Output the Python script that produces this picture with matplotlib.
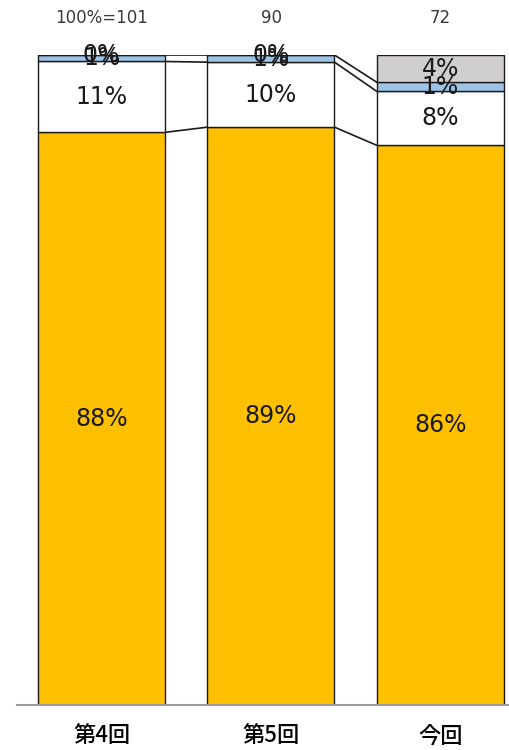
import matplotlib
matplotlib.use("Agg")
import matplotlib.pyplot as plt
import numpy as np

plt.rcParams['font.family'] = ['DejaVu Sans', 'Noto Sans CJK JP']

categories = ["第4回", "第5回", "今回"]
totals = ["100%=101", "90", "72"]
orange = [88.1, 88.9, 86.1]
white = [10.9, 10.0, 8.3]
blue = [1.0, 1.1, 1.4]
gray = [0.0, 0.0, 4.2]
label_orange = ["88%", "89%", "86%"]
label_white = ["11%", "10%", "8%"]
label_blue = ["1%", "1%", "1%"]
label_gray = ["0%", "0%", "4%"]

series = [orange, white, blue, gray]
labels = [label_orange, label_white, label_blue, label_gray]
colors = ["#FFC000", "#FFFFFF", "#9DC3E6", "#D0CECE"]

fig = plt.figure(figsize=(5.1, 7.5), dpi=100)
ax = fig.add_axes([17/510, 45/750, 508/510, 650/750])

x = np.arange(len(categories))
width = 0.75
bottom = np.zeros(len(categories))
tops = []
for vals, labs, col in zip(series, labels, colors):
    vals = np.array(vals)
    ax.bar(x, vals, width, bottom=bottom, color=col, edgecolor="#1a1a1a", linewidth=1.0, zorder=2)
    for xi, b, v, lab in zip(x, bottom, vals, labs):
        ax.text(xi, b + v / 2, lab, ha="center", va="center", fontsize=17,
                color="#1a1a1a", zorder=3)
    bottom = bottom + vals
    tops.append(bottom.copy())

# connector lines for first three series
for t in tops[:3]:
    for i in range(len(x) - 1):
        ax.plot([x[i] + width / 2, x[i + 1] - width / 2], [t[i], t[i + 1]],
                color="#1a1a1a", linewidth=1.2, zorder=1)

for xi, tl in zip(x, totals):
    ax.annotate(tl, (xi, 100), xytext=(0, 26.5), textcoords="offset points",
                ha="center", va="center", fontsize=12, color="#3a3a3a")

ax.set_xlim(-0.5, 2.5)
ax.set_ylim(0, 100)
ax.set_xticks(x)
ax.set_xticklabels(categories, fontsize=16, fontweight="medium",
                   family=['Noto Sans CJK JP', 'DejaVu Sans'])
ax.tick_params(axis="x", length=0, pad=14)
ax.set_yticks([])
for s in ["top", "right", "left"]:
    ax.spines[s].set_visible(False)
ax.spines["bottom"].set_color("#999999")
ax.spines["bottom"].set_linewidth(1.5)
ax.set_facecolor("none")

fig.savefig("out.png", dpi=100)
